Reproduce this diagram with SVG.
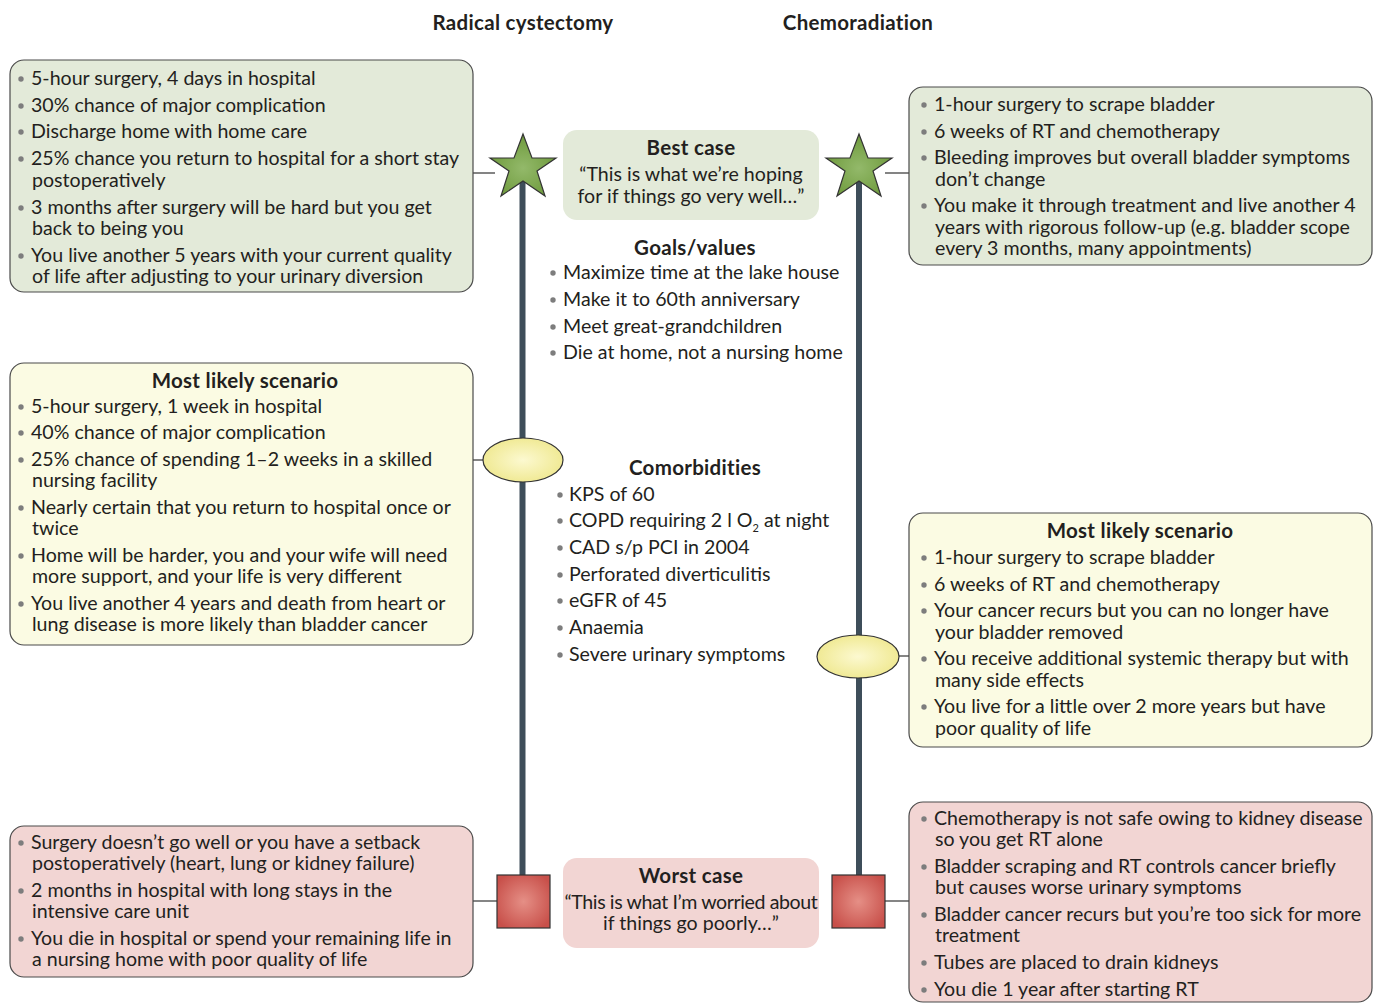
<svg xmlns="http://www.w3.org/2000/svg" width="1382" height="1004" viewBox="0 0 1382 1004">
<style>
.t{font-family:Lato,"Liberation Sans",sans-serif;font-size:19.6px;fill:#231f20}
.b{font-weight:bold;font-size:20.5px;letter-spacing:0.3px}
.c{text-anchor:middle}
.bx{stroke:#4a4a4a;stroke-width:1.2}
.g{fill:#e3ead9}.y{fill:#fbfbe3}.p{fill:#f2d5d3}
.dot{fill:#7d7d7d}
.ln{stroke:#333;stroke-width:1.2;fill:none}
.vl{stroke:#3e4e5a;stroke-width:6;fill:none}
.sh{stroke:#333;stroke-width:1.2}
</style>
<defs>
<radialGradient id="gs" cx="50%" cy="55%" r="55%"><stop offset="0" stop-color="#93b96a"/><stop offset="1" stop-color="#6e9a3c"/></radialGradient>
<radialGradient id="ge" cx="50%" cy="50%" r="55%"><stop offset="0" stop-color="#fcf9d0"/><stop offset="1" stop-color="#efe88f"/></radialGradient>
<radialGradient id="gr" cx="50%" cy="50%" r="60%"><stop offset="0" stop-color="#e58f86"/><stop offset="1" stop-color="#c8504a"/></radialGradient>
<circle id="d" r="2.7" class="dot"/>
</defs>
<rect width="1382" height="1004" fill="#ffffff"/>

<g id="headers">
<text class="t b c" x="523" y="30">Radical cystectomy</text>
<text class="t b c" x="858" y="30">Chemoradiation</text>
</g>

<g id="connectors">
<line class="vl" x1="522.5" y1="170" x2="522.5" y2="875"/>
<line class="vl" x1="859" y1="170" x2="859" y2="875"/>
<line class="ln" x1="473" y1="173" x2="495" y2="173"/>
<line class="ln" x1="473" y1="460" x2="483" y2="460"/>
<line class="ln" x1="473" y1="901" x2="497" y2="901"/>
<line class="ln" x1="885" y1="173" x2="909" y2="173"/>
<line class="ln" x1="899" y1="656" x2="909" y2="656"/>
<line class="ln" x1="885" y1="901" x2="909" y2="901"/>
</g>

<g id="star-left"><polygon class="sh" fill="url(#gs)" points="523,134 532,158 556,158 537,171 545,196 523,181 501,196 509,171 490,158 514,158"/></g>
<g id="star-right"><polygon class="sh" fill="url(#gs)" points="859,134 868,158 892,158 873,171 881,196 859,181 837,196 845,171 826,158 850,158"/></g>
<g id="ellipse-left"><ellipse class="sh" fill="url(#ge)" cx="523" cy="460" rx="40" ry="22"/></g>
<g id="ellipse-right"><ellipse class="sh" fill="url(#ge)" cx="858" cy="656.5" rx="41" ry="21.5"/></g>
<g id="square-left"><rect class="sh" fill="url(#gr)" x="497" y="875" width="53" height="53"/></g>
<g id="square-right"><rect class="sh" fill="url(#gr)" x="832" y="875" width="53" height="53"/></g>

<g id="rc-best">
<rect class="bx g" x="10" y="60" width="463" height="232" rx="14"/>
<use href="#d" x="21" y="79"/><text class="t" x="31" y="85">5-hour surgery, 4 days in hospital</text>
<use href="#d" x="21" y="106"/><text class="t" x="31" y="112">30% chance of major complication</text>
<use href="#d" x="21" y="132"/><text class="t" x="31" y="138">Discharge home with home care</text>
<use href="#d" x="21" y="159"/><text class="t" x="31" y="165">25% chance you return to hospital for a short stay</text>
<text class="t" x="32" y="187">postoperatively</text>
<use href="#d" x="21" y="208"/><text class="t" x="31" y="214">3 months after surgery will be hard but you get</text>
<text class="t" x="32" y="235">back to being you</text>
<use href="#d" x="21" y="256"/><text class="t" x="31" y="262">You live another 5 years with your current quality</text>
<text class="t" x="32" y="283">of life after adjusting to your urinary diversion</text>
</g>

<g id="rc-likely">
<rect class="bx y" x="10" y="363" width="463" height="282" rx="14"/>
<text class="t b c" x="245" y="388">Most likely scenario</text>
<use href="#d" x="21" y="407"/><text class="t" x="31" y="413">5-hour surgery, 1 week in hospital</text>
<use href="#d" x="21" y="433"/><text class="t" x="31" y="439">40% chance of major complication</text>
<use href="#d" x="21" y="460"/><text class="t" x="31" y="466">25% chance of spending 1–2 weeks in a skilled</text>
<text class="t" x="32" y="487">nursing facility</text>
<use href="#d" x="21" y="508"/><text class="t" x="31" y="514">Nearly certain that you return to hospital once or</text>
<text class="t" x="32" y="535">twice</text>
<use href="#d" x="21" y="556"/><text class="t" x="31" y="562">Home will be harder, you and your wife will need</text>
<text class="t" x="32" y="583">more support, and your life is very different</text>
<use href="#d" x="21" y="604"/><text class="t" x="31" y="610">You live another 4 years and death from heart or</text>
<text class="t" x="32" y="631">lung disease is more likely than bladder cancer</text>
</g>

<g id="rc-worst">
<rect class="bx p" x="10" y="826" width="463" height="151" rx="14"/>
<use href="#d" x="21" y="843"/><text class="t" x="31" y="849">Surgery doesn’t go well or you have a setback</text>
<text class="t" x="32" y="870">postoperatively (heart, lung or kidney failure)</text>
<use href="#d" x="21" y="891"/><text class="t" x="31" y="897">2 months in hospital with long stays in the</text>
<text class="t" x="32" y="918">intensive care unit</text>
<use href="#d" x="21" y="939"/><text class="t" x="31" y="945">You die in hospital or spend your remaining life in</text>
<text class="t" x="32" y="966">a nursing home with poor quality of life</text>
</g>

<g id="best-case">
<rect class="g" x="563" y="130" width="256" height="90" rx="14"/>
<text class="t b c" x="691" y="155">Best case</text>
<text class="t c" x="691" y="181">“This is what we’re hoping</text>
<text class="t c" x="691" y="203">for if things go very well…”</text>
</g>

<g id="goals">
<text class="t b c" x="695" y="255">Goals/values</text>
<use href="#d" x="553" y="273"/><text class="t" x="563" y="279">Maximize time at the lake house</text>
<use href="#d" x="553" y="300"/><text class="t" x="563" y="306">Make it to 60th anniversary</text>
<use href="#d" x="553" y="327"/><text class="t" x="563" y="333">Meet great-grandchildren</text>
<use href="#d" x="553" y="353"/><text class="t" x="563" y="359">Die at home, not a nursing home</text>
</g>

<g id="comorbidities">
<text class="t b c" x="695" y="475">Comorbidities</text>
<use href="#d" x="560" y="495"/><text class="t" x="569" y="501">KPS of 60</text>
<use href="#d" x="560" y="521"/><text class="t" x="569" y="527">COPD requiring 2 l O<tspan font-size="11" dy="5">2</tspan><tspan dy="-5"> at night</tspan></text>
<use href="#d" x="560" y="548"/><text class="t" x="569" y="554">CAD s/p PCI in 2004</text>
<use href="#d" x="560" y="575"/><text class="t" x="569" y="581">Perforated diverticulitis</text>
<use href="#d" x="560" y="601"/><text class="t" x="569" y="607">eGFR of 45</text>
<use href="#d" x="560" y="628"/><text class="t" x="569" y="634">Anaemia</text>
<use href="#d" x="560" y="655"/><text class="t" x="569" y="661">Severe urinary symptoms</text>
</g>

<g id="worst-case">
<rect class="p" x="563" y="858" width="256" height="90" rx="14"/>
<text class="t b c" x="691" y="883">Worst case</text>
<text class="t c" x="691" y="909" letter-spacing="-0.4">“This is what I’m worried about</text>
<text class="t c" x="691" y="930">if things go poorly…”</text>
</g>

<g id="cr-best">
<rect class="bx g" x="909" y="87" width="463" height="178" rx="14"/>
<use href="#d" x="924" y="105"/><text class="t" x="934" y="111">1-hour surgery to scrape bladder</text>
<use href="#d" x="924" y="132"/><text class="t" x="934" y="138">6 weeks of RT and chemotherapy</text>
<use href="#d" x="924" y="158"/><text class="t" x="934" y="164">Bleeding improves but overall bladder symptoms</text>
<text class="t" x="935" y="186">don’t change</text>
<use href="#d" x="924" y="206"/><text class="t" x="934" y="212">You make it through treatment and live another 4</text>
<text class="t" x="935" y="234">years with rigorous follow-up (e.g. bladder scope</text>
<text class="t" x="935" y="255">every 3 months, many appointments)</text>
</g>

<g id="cr-likely">
<rect class="bx y" x="909" y="513" width="463" height="234" rx="14"/>
<text class="t b c" x="1140" y="538">Most likely scenario</text>
<use href="#d" x="924" y="558"/><text class="t" x="934" y="564">1-hour surgery to scrape bladder</text>
<use href="#d" x="924" y="585"/><text class="t" x="934" y="591">6 weeks of RT and chemotherapy</text>
<use href="#d" x="924" y="611"/><text class="t" x="934" y="617">Your cancer recurs but you can no longer have</text>
<text class="t" x="935" y="639">your bladder removed</text>
<use href="#d" x="924" y="659"/><text class="t" x="934" y="665">You receive additional systemic therapy but with</text>
<text class="t" x="935" y="687">many side effects</text>
<use href="#d" x="924" y="707"/><text class="t" x="934" y="713">You live for a little over 2 more years but have</text>
<text class="t" x="935" y="735">poor quality of life</text>
</g>

<g id="cr-worst">
<rect class="bx p" x="909" y="802" width="463" height="200" rx="14"/>
<use href="#d" x="924" y="819"/><text class="t" x="934" y="825">Chemotherapy is not safe owing to kidney disease</text>
<text class="t" x="935" y="846">so you get RT alone</text>
<use href="#d" x="924" y="867"/><text class="t" x="934" y="873">Bladder scraping and RT controls cancer briefly</text>
<text class="t" x="935" y="894">but causes worse urinary symptoms</text>
<use href="#d" x="924" y="915"/><text class="t" x="934" y="921">Bladder cancer recurs but you’re too sick for more</text>
<text class="t" x="935" y="942">treatment</text>
<use href="#d" x="924" y="963"/><text class="t" x="934" y="969">Tubes are placed to drain kidneys</text>
<use href="#d" x="924" y="990"/><text class="t" x="934" y="996">You die 1 year after starting RT</text>
</g>
</svg>
